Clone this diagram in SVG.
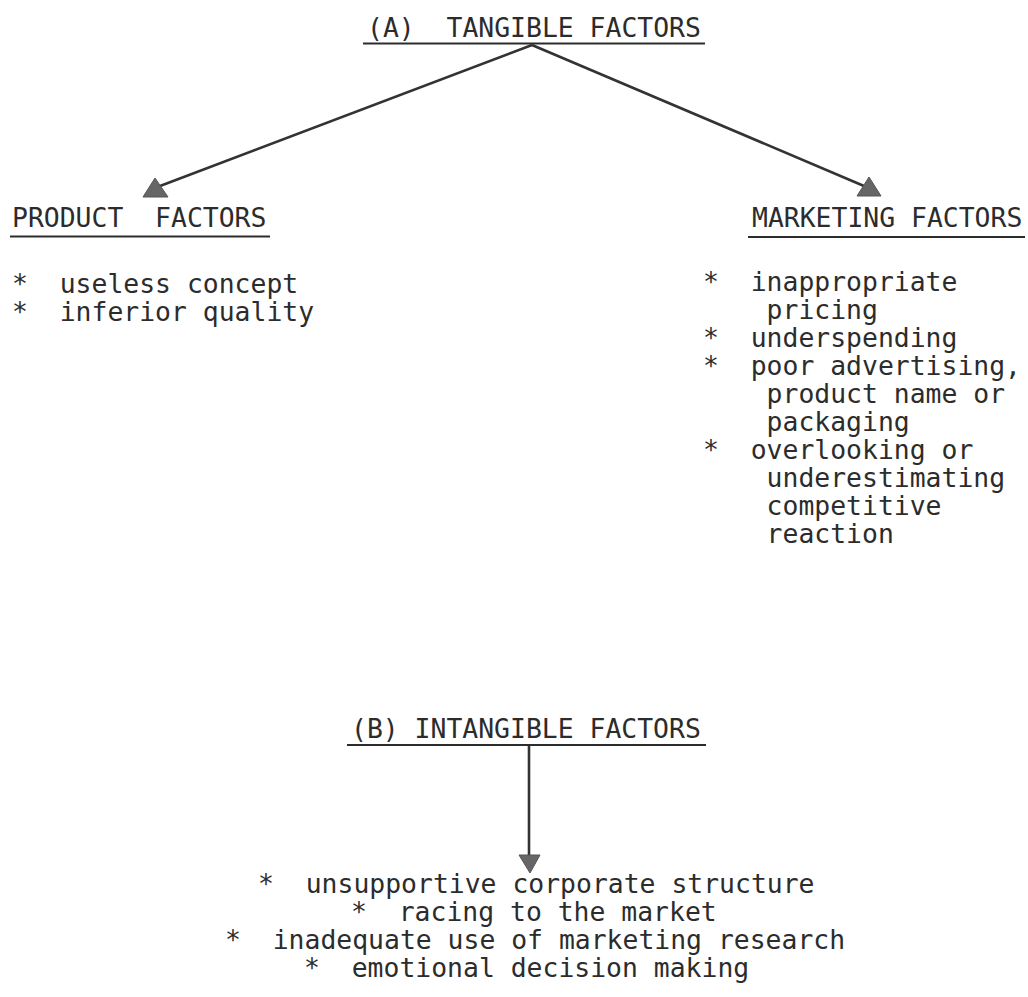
<svg xmlns="http://www.w3.org/2000/svg" width="1028" height="997" viewBox="0 0 1028 997">
  <style>
    text { font-family: "DejaVu Sans Mono", "Liberation Mono", monospace; font-size: 26px; fill: #2c2c2c; white-space: pre; }
    .rule { stroke: #2c2c2c; stroke-width: 2; fill: none; }
    .link { stroke: #333333; stroke-width: 2.6; fill: none; }
    .head { fill: #666666; stroke: #555555; stroke-width: 1; stroke-linejoin: round; }
  </style>
  <rect width="1028" height="997" fill="#ffffff"/>

  <!-- connectors: typewriter pitch is 15.9px per character -->
  <g id="connectors">
    <line class="link" x1="532" y1="45" x2="160" y2="186"/>
    <line class="link" x1="532" y1="45" x2="864" y2="186"/>
    <line class="link" x1="529" y1="745" x2="529" y2="856"/>
    <polygon class="head" points="155,178 143,197 168,197"/>
    <polygon class="head" points="869,177 857,196 881,196"/>
    <polygon class="head" points="519,855 540,855 530,873"/>
  </g>

  <!-- (A) tangible factors -->
  <g id="tangible">
    <text x="367" y="37" textLength="333.9" lengthAdjust="spacingAndGlyphs">(A)  TANGIBLE FACTORS</text>
    <line class="rule" x1="363" y1="43.5" x2="705" y2="43.5"/>
  </g>

  <!-- product factors -->
  <g id="product">
    <text x="12" y="227" textLength="254.4" lengthAdjust="spacingAndGlyphs">PRODUCT  FACTORS</text>
    <line class="rule" x1="10" y1="236.5" x2="270" y2="236.5"/>
    <text x="12" y="293" textLength="286.2" lengthAdjust="spacingAndGlyphs">*  useless concept</text>
    <text x="12" y="321" textLength="302.1" lengthAdjust="spacingAndGlyphs">*  inferior quality</text>
  </g>

  <!-- marketing factors -->
  <g id="marketing">
    <text x="752" y="227" textLength="270.3" lengthAdjust="spacingAndGlyphs">MARKETING FACTORS</text>
    <line class="rule" x1="748" y1="237" x2="1025" y2="237"/>
    <text x="703" y="291" textLength="254.4" lengthAdjust="spacingAndGlyphs">*  inappropriate</text>
    <text x="766.6" y="319" textLength="111.3" lengthAdjust="spacingAndGlyphs">pricing</text>
    <text x="703" y="347" textLength="254.4" lengthAdjust="spacingAndGlyphs">*  underspending</text>
    <text x="703" y="375" textLength="318" lengthAdjust="spacingAndGlyphs">*  poor advertising,</text>
    <text x="766.6" y="403" textLength="238.5" lengthAdjust="spacingAndGlyphs">product name or</text>
    <text x="766.6" y="431" textLength="143.1" lengthAdjust="spacingAndGlyphs">packaging</text>
    <text x="703" y="459" textLength="270.3" lengthAdjust="spacingAndGlyphs">*  overlooking or</text>
    <text x="766.6" y="487" textLength="238.5" lengthAdjust="spacingAndGlyphs">underestimating</text>
    <text x="766.6" y="515" textLength="174.9" lengthAdjust="spacingAndGlyphs">competitive</text>
    <text x="766.6" y="543" textLength="127.2" lengthAdjust="spacingAndGlyphs">reaction</text>
  </g>

  <!-- (B) intangible factors -->
  <g id="intangible">
    <text x="351" y="738" textLength="349.8" lengthAdjust="spacingAndGlyphs">(B) INTANGIBLE FACTORS</text>
    <line class="rule" x1="347" y1="745" x2="706" y2="745"/>
    <text x="258" y="893" textLength="556.5" lengthAdjust="spacingAndGlyphs">*  unsupportive corporate structure</text>
    <text x="351" y="921" textLength="365.7" lengthAdjust="spacingAndGlyphs">*  racing to the market</text>
    <text x="225" y="949" textLength="620.1" lengthAdjust="spacingAndGlyphs">*  inadequate use of marketing research</text>
    <text x="304" y="977" textLength="445.2" lengthAdjust="spacingAndGlyphs">*  emotional decision making</text>
  </g>
</svg>
